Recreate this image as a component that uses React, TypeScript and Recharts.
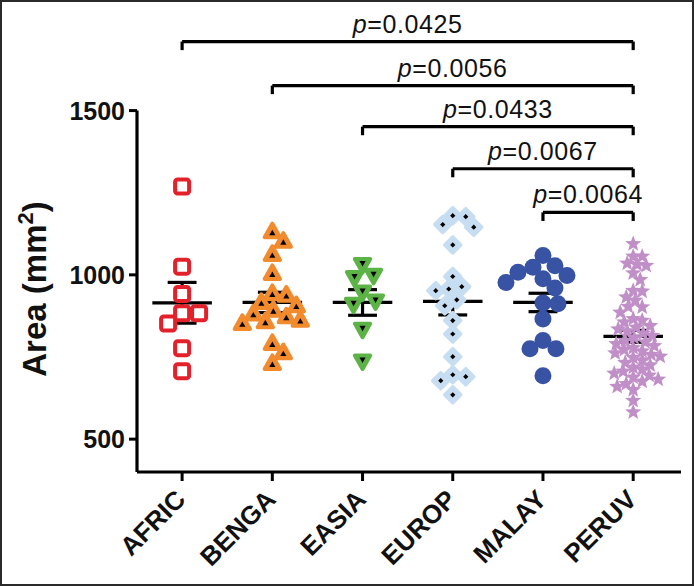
import React from 'react';
import { ScatterChart, Scatter, XAxis, YAxis, ReferenceLine } from 'recharts';

// ---------- data ----------
const groups = ['AFRIC', 'BENGA', 'EASIA', 'EUROP', 'MALAY', 'PERUV'];
const africValues = [1269, 1025, 942, 883, 883, 852, 777, 707];
const bengaValues = [1130, 1101, 1061, 1003, 942, 937, 915, 905, 891, 880, 871, 861, 856, 851, 790, 762, 729];
const easiaValues = [1033, 1000, 993, 949, 922, 912, 836, 739];
const europValues = [1180, 1177, 1153, 1145, 1091, 995, 964, 957, 952, 924, 906, 861, 820, 751, 696, 690, 678, 635];
const malayValues = [1059, 1028, 1023, 1008, 998, 988, 977, 960, 914, 912, 866, 800, 775, 775, 693];
const peruvValues = [
  1094, 1056, 1056, 1035, 1031, 1028, 1005, 985, 952, 950, 932, 922, 903, 902, 886, 866, 861, 856,
  845, 840, 835, 828, 822, 815, 808, 800, 795, 790, 784, 778, 772, 768, 762, 757, 752, 748, 740, 733,
  725, 718, 712, 706, 700, 694, 688, 682, 676, 668, 660, 650, 617, 582,
];
const groupMeans = [915, 916, 916, 919, 916, 813];
const groupSems = [62, 31, 39, 41, 28, 18];
const yTicks = [500, 1000, 1500];
const bracketFrom = [1, 2, 3, 4, 5];
const bracketTo = [6, 6, 6, 6, 6];
const bracketLevels = [1710, 1576, 1451, 1323, 1190];
const bracketP = ['0.0425', '0.0056', '0.0433', '0.0067', '0.0064'];

// ---------- layout ----------
const W = 694;
const H = 586;
const MARGIN = { top: 12, right: 13, bottom: 14, left: 57 };
const Y_AXIS_W = 80;
const X_AXIS_H = 100;
const X_DOMAIN: [number, number] = [0.5, 6.53];
const Y_DOMAIN: [number, number] = [400, 1800];
const PLOT_W = W - MARGIN.left - Y_AXIS_W - MARGIN.right;
const PLOT_H = H - MARGIN.top - MARGIN.bottom - X_AXIS_H;
const PX_PER_VAL = PLOT_H / (Y_DOMAIN[1] - Y_DOMAIN[0]);
const PX_PER_X = PLOT_W / (X_DOMAIN[1] - X_DOMAIN[0]);
const FONT = '"Liberation Sans", Arial, Helvetica, sans-serif';

// simple beeswarm layout (offsets in x units) computed from values
function swarm(values: number[], diameter: number): number[] {
  const placed: { x: number; y: number }[] = [];
  const order = values.map((_, i) => i).sort((a, b) => values[b] - values[a]);
  const offsets = new Array(values.length).fill(0);
  for (const i of order) {
    const py = values[i] * PX_PER_VAL;
    let best = 0;
    for (let k = 0; k < 400; k++) {
      const cand = k === 0 ? 0 : (k % 2 === 1 ? 1 : -1) * Math.ceil(k / 2);
      if (placed.every((p) => (p.x - cand) ** 2 + (p.y - py) ** 2 >= diameter * diameter)) {
        best = cand;
        break;
      }
    }
    placed.push({ x: best, y: py });
    offsets[i] = best / PX_PER_X;
  }
  return offsets;
}

const groupValues = [africValues, bengaValues, easiaValues, europValues, malayValues, peruvValues];
const swarmDiam = [17, 14, 15, 13, 15, 9];
const seriesData = groupValues.map((vals, gi) => {
  const off = swarm(vals, swarmDiam[gi]);
  return vals.map((v, j) => ({ x: gi + 1 + off[j], y: v }));
});

// ---------- shapes ----------
const SquareShape = (p: any) => (
  <rect x={p.cx - 7} y={p.cy - 7} width={14} height={14} rx={2.5} fill="#fff" stroke="#e3212b" strokeWidth={4} />
);
const triPath = (cx: number, cy: number, r: number, down: boolean) => {
  const s = down ? -1 : 1;
  return `M${cx},${cy - s * r} L${cx + r * 0.9},${cy + s * r * 0.6} L${cx - r * 0.9},${cy + s * r * 0.6} Z`;
};
const UpTriShape = (p: any) => (
  <g>
    <path d={triPath(p.cx, p.cy, 8.5, false)} fill="#f28a2e" stroke="#f28a2e" strokeWidth={4} strokeLinejoin="round" />
    <path d={triPath(p.cx, p.cy + 1, 3.4, false)} fill="#000" />
  </g>
);
const DownTriShape = (p: any) => (
  <g>
    <path d={triPath(p.cx, p.cy, 8.5, true)} fill="#5cb346" stroke="#5cb346" strokeWidth={4} strokeLinejoin="round" />
    <path d={triPath(p.cx, p.cy - 1, 3.4, true)} fill="#000" />
  </g>
);
const DiamondShape = (p: any) => (
  <g>
    <path d={`M${p.cx},${p.cy - 8} L${p.cx + 8},${p.cy} L${p.cx},${p.cy + 8} L${p.cx - 8},${p.cy} Z`} fill="#c7ddf1" stroke="#c7ddf1" strokeWidth={3.5} strokeLinejoin="round" />
    <path d={`M${p.cx},${p.cy - 2.6} L${p.cx + 2.6},${p.cy} L${p.cx},${p.cy + 2.6} L${p.cx - 2.6},${p.cy} Z`} fill="#000" />
  </g>
);
const CircleShape = (p: any) => <circle cx={p.cx} cy={p.cy} r={8.5} fill="#3853a4" />;
const StarShape = (p: any) => {
  const pts: string[] = [];
  for (let k = 0; k < 10; k++) {
    const r = k % 2 === 0 ? 8.5 : 3.6;
    const a = -Math.PI / 2 + (k * Math.PI) / 5;
    pts.push(`${p.cx + r * Math.cos(a)},${p.cy + r * Math.sin(a)}`);
  }
  return <polygon points={pts.join(' ')} fill="#c18fc8" />;
};
const shapes = [SquareShape, UpTriShape, DownTriShape, DiamondShape, CircleShape, StarShape];

// ---------- labels / ticks ----------
const XTick = (p: any) => (
  <g transform={`translate(${p.x + 5},${p.y + 18})`}>
    <text textAnchor="end" transform="rotate(-45)" fontFamily={FONT} fontWeight="bold" fontSize={26} fill="#111">
      {groups[Math.round(p.payload.value) - 1]}
    </text>
  </g>
);
const YTick = (p: any) => (
  <text x={p.x} y={p.y} dy="0.36em" textAnchor="end" fontFamily={FONT} fontWeight="bold" fontSize={25} fill="#111">
    {p.payload.value}
  </text>
);
const YLabel = () => (
  <text transform="translate(46,289) rotate(-90)" textAnchor="middle" fontFamily={FONT} fontWeight="bold" fontSize={33} fill="#111">
    Area (mm<tspan dy={-13} fontSize={22}>2</tspan><tspan dy={13}>)</tspan>
  </text>
);
const BracketLabel = (p: any) => {
  const vb = p.viewBox || { x: 0, y: 0, width: 0 };
  return (
    <text x={vb.x + vb.width / 2} y={vb.y - 9} textAnchor="middle" fontFamily={FONT} fontSize={25} letterSpacing={0.6} fill="#111">
      <tspan fontStyle="italic">p</tspan>={p.text}
    </text>
  );
};

const LINE = { stroke: '#000', strokeWidth: 3.2, ifOverflow: 'visible' as const };

export default function App() {
  return (
    <div style={{ position: 'absolute', left: 0, top: 0, width: W, height: H, background: '#fff' }}>
      <ScatterChart width={W} height={H} margin={MARGIN}>
        <XAxis
          type="number"
          dataKey="x"
          domain={X_DOMAIN}
          allowDataOverflow
          ticks={[1, 2, 3, 4, 5, 6]}
          height={X_AXIS_H}
          tick={<XTick />}
          tickSize={9}
          tickLine={{ stroke: '#000', strokeWidth: 3 }}
          axisLine={{ stroke: '#000', strokeWidth: 3.2 }}
          interval={0}
        />
        <YAxis
          type="number"
          dataKey="y"
          domain={Y_DOMAIN}
          allowDataOverflow
          ticks={yTicks}
          width={Y_AXIS_W}
          tick={<YTick />}
          tickSize={8}
          tickMargin={4}
          tickLine={{ stroke: '#000', strokeWidth: 3 }}
          axisLine={false}
          label={<YLabel />}
        />
        {seriesData.map((d, gi) => (
          <Scatter key={groups[gi]} data={d} shape={shapes[gi]} isAnimationActive={false} />
        ))}
        <ReferenceLine segment={[{ x: X_DOMAIN[0], y: Y_DOMAIN[0] }, { x: X_DOMAIN[0], y: yTicks[2] }]} {...LINE} />
        {groupMeans.map((m, gi) => {
          const c = gi + 1;
          const s = groupSems[gi];
          return (
            <React.Fragment key={'m' + gi}>
              <ReferenceLine segment={[{ x: c - 0.33, y: m }, { x: c + 0.33, y: m }]} {...LINE} />
              <ReferenceLine segment={[{ x: c, y: m - s }, { x: c, y: m + s }]} {...LINE} />
              <ReferenceLine segment={[{ x: c - 0.16, y: m + s }, { x: c + 0.16, y: m + s }]} {...LINE} />
              <ReferenceLine segment={[{ x: c - 0.16, y: m - s }, { x: c + 0.16, y: m - s }]} {...LINE} />
            </React.Fragment>
          );
        })}
        {bracketLevels.map((lv, bi) => (
          <React.Fragment key={'b' + bi}>
            <ReferenceLine
              segment={[{ x: bracketFrom[bi], y: lv }, { x: bracketTo[bi], y: lv }]}
              {...LINE}
              label={<BracketLabel text={bracketP[bi]} />}
            />
            <ReferenceLine segment={[{ x: bracketFrom[bi], y: lv }, { x: bracketFrom[bi], y: lv - 26 }]} {...LINE} />
            <ReferenceLine segment={[{ x: bracketTo[bi], y: lv }, { x: bracketTo[bi], y: lv - 26 }]} {...LINE} />
          </React.Fragment>
        ))}
      </ScatterChart>
      <div
        style={{
          position: 'absolute',
          left: 0,
          top: 0,
          width: W,
          height: H,
          boxSizing: 'border-box',
          border: '2px solid #2a2a2a',
          pointerEvents: 'none',
        }}
      />
    </div>
  );
}
